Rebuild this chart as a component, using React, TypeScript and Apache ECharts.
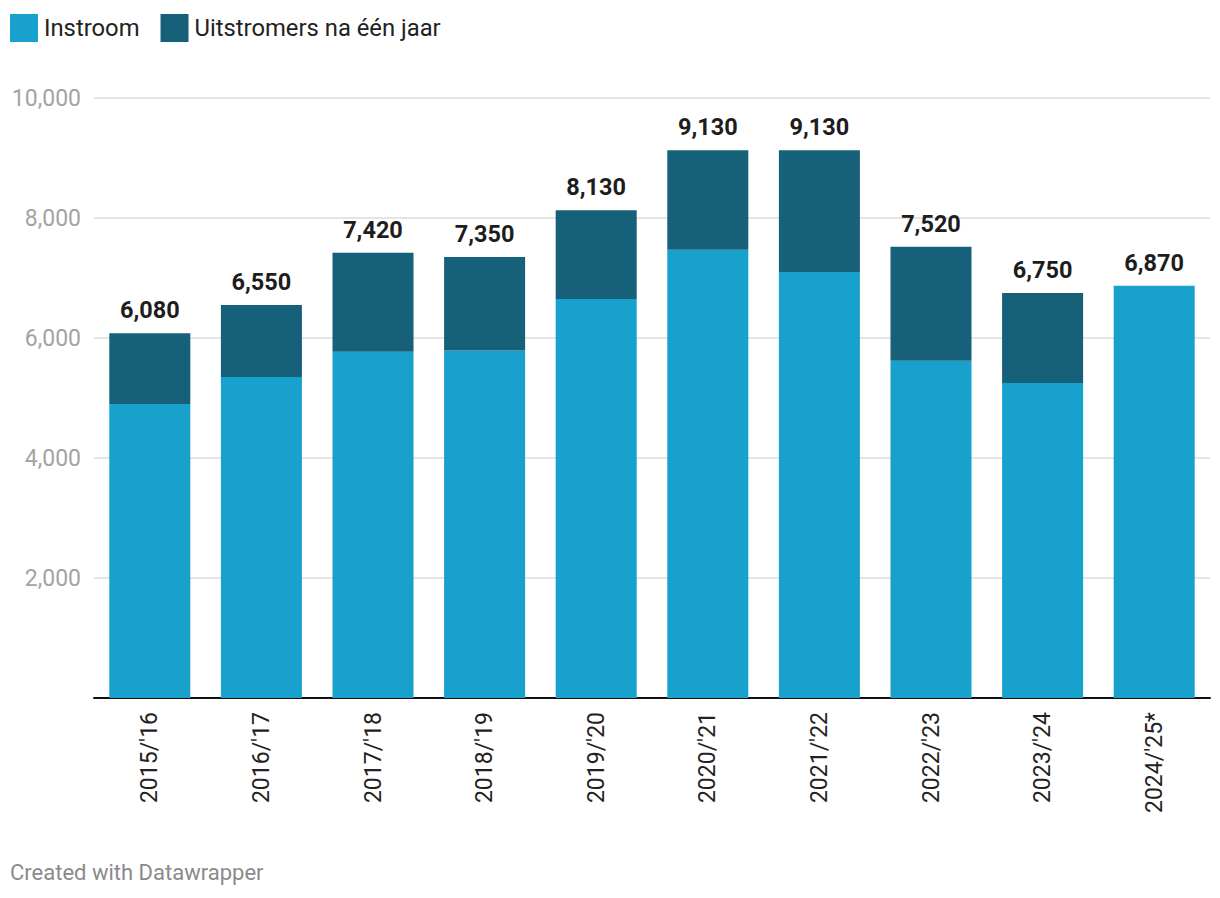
import React, { useEffect, useRef } from "react";
import * as echarts from "echarts";

const categories = ["2015/'16", "2016/'17", "2017/'18", "2018/'19", "2019/'20", "2020/'21", "2021/'22", "2022/'23", "2023/'24", "2024/'25*"];
const instroom = [4900, 5350, 5770, 5790, 6650, 7470, 7100, 5620, 5250, 6870];
const totals = [6080, 6550, 7420, 7350, 8130, 9130, 9130, 7520, 6750, 6870];
const uitstromers = [1180, 1200, 1650, 1560, 1480, 1660, 2030, 1900, 1500, null];
const yTicks = [0, 2000, 4000, 6000, 8000, 10000];

const FONT = "Roboto, 'Noto Sans', sans-serif";
const fmt = (v: number) => v.toLocaleString("en-US");

export default function App() {
  const ref = useRef<HTMLDivElement>(null);
  useEffect(() => {
    const chart = echarts.init(ref.current!, undefined, { renderer: "svg" });
    const valueLabel = {
      show: true,
      position: "top",
      distance: 11,
      fontFamily: FONT,
      fontSize: 23.5,
      fontWeight: "bold",
      color: "#1d1d1d",
      formatter: (p: any) => fmt(totals[p.dataIndex]),
    };
    chart.setOption({
      animation: false,
      textStyle: { fontFamily: FONT },
      legend: {
        left: 10,
        top: 14,
        padding: 0,
        icon: "rect",
        itemWidth: 28,
        itemHeight: 28,
        itemGap: 21,
        textStyle: { fontFamily: FONT, fontSize: 23.8, color: "#222", padding: [0, 0, 0, 1] },
        data: ["Instroom", "Uitstromers na één jaar"],
      },
      grid: { left: 94, right: 10, top: 98, bottom: 200, containLabel: false },
      xAxis: {
        type: "category",
        data: categories,
        axisLine: { lineStyle: { color: "#111", width: 2 } },
        axisTick: { show: false },
        axisLabel: {
          rotate: 90,
          margin: 14,
          fontFamily: FONT,
          fontSize: 23,
          color: "#222",
        },
      },
      yAxis: {
        type: "value",
        min: yTicks[0],
        max: yTicks[yTicks.length - 1],
        interval: 2000,
        axisLine: { show: false },
        axisTick: { show: false },
        splitLine: { lineStyle: { color: "#e4e4e4", width: 2 } },
        axisLabel: {
          margin: 13,
          fontFamily: FONT,
          fontSize: 23,
          color: "#a3a3a3",
          formatter: (v: number) => (v === 0 ? "" : fmt(v)),
        },
      },
      series: [
        {
          name: "Instroom",
          type: "bar",
          stack: "s",
          barWidth: "72.6%",
          itemStyle: { color: "#19a1ce" },
          data: instroom.map((v, i) =>
            uitstromers[i] == null ? { value: v, label: valueLabel } : v
          ),
        },
        {
          name: "Uitstromers na één jaar",
          type: "bar",
          stack: "s",
          barWidth: "72.6%",
          itemStyle: { color: "#16607a" },
          label: valueLabel,
          data: uitstromers.map((v) => (v == null ? "-" : v)),
        },
      ],
      graphic: [
        {
          type: "text",
          left: 10,
          top: 861,
          style: {
            text: "Created with Datawrapper",
            fontFamily: FONT,
            fontSize: 22,
            fill: "#8a8a8a",
          },
        },
      ],
    });
    return () => chart.dispose();
  }, []);
  return (
    <div
      ref={ref}
      style={{ position: "absolute", left: 0, top: 0, width: 1220, height: 898, background: "#fff" }}
    />
  );
}
